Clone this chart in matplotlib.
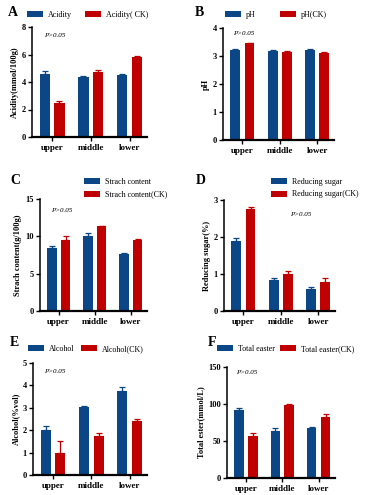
import matplotlib
matplotlib.use("Agg")
import matplotlib.pyplot as plt
import numpy as np
from matplotlib.patches import Patch

plt.rcParams['font.family'] = ['Liberation Serif', 'DejaVu Serif']

groups = ["upper", "middle", "lower"]

acid = [4.55, 4.40, 4.48]; acid_err = [0.25, 0.05, 0.12]
acid_ck = [2.45, 4.70, 5.85]; acid_ck_err = [0.20, 0.20, 0.05]

ph = [3.22, 3.18, 3.22]; ph_err = [0.03, 0.03, 0.03]
ph_ck = [3.45, 3.15, 3.12]; ph_ck_err = [0.03, 0.03, 0.03]

starch = [8.5, 10.1, 7.6]; starch_err = [0.15, 0.4, 0.2]
starch_ck = [9.5, 11.35, 9.5]; starch_ck_err = [0.5, 0.1, 0.2]

sugar = [1.90, 0.83, 0.59]; sugar_err = [0.08, 0.07, 0.05]
sugar_ck = [2.75, 1.00, 0.78]; sugar_ck_err = [0.07, 0.07, 0.10]

alcohol = [2.0, 3.02, 3.75]; alcohol_err = [0.2, 0.07, 0.2]
alcohol_ck = [1.0, 1.72, 2.40]; alcohol_ck_err = [0.5, 0.15, 0.1]

ester = [92, 64, 68]; ester_err = [3, 4, 1]
ester_ck = [57, 99, 82]; ester_ck_err = [4, 1, 5]

BLUE = "#0b4686"
RED = "#c00000"

W, H = 374, 495
fig = plt.figure(figsize=(W / 100, H / 100), dpi=100)


def add_ax(l, r, t, b):
    return fig.add_axes([l / W, 1 - b / H, (r - l) / W, (b - t) / H])


def panel(box, label, lab_xy, vals, errs, vals_ck, errs_ck, ylim, yticks, ylabel,
          names, leg_xy, leg_cols, ptxt_xy, colsp=1.2):
    ax = add_ax(*box)
    x = np.arange(len(groups))
    bw = 0.26
    off = 0.19
    ax.bar(x - off, vals, bw, color=BLUE, zorder=2)
    ax.bar(x + off, vals_ck, bw, color=RED, zorder=2)
    ax.errorbar(x - off, vals, yerr=[np.zeros(3), errs], fmt='none', ecolor=BLUE,
                elinewidth=0.9, capsize=2.5, capthick=0.9, zorder=3)
    ax.errorbar(x + off, vals_ck, yerr=[np.zeros(3), errs_ck], fmt='none', ecolor=RED,
                elinewidth=0.9, capsize=2.5, capthick=0.9, zorder=3)
    ax.set_xlim(-0.52, 2.45)
    ax.set_ylim(*ylim)
    ax.set_yticks(yticks)
    ax.set_xticks(x)
    ax.set_xticklabels(groups, fontsize=6.5, fontweight='bold')
    ax.tick_params(axis='y', labelsize=6, width=1.0, length=3, direction='out', pad=1.5)
    ax.tick_params(axis='x', width=1.0, length=3, direction='out', pad=2)
    for t in ax.get_yticklabels():
        t.set_fontweight('bold')
    ax.spines['top'].set_visible(False)
    ax.spines['right'].set_visible(False)
    ax.spines['left'].set_linewidth(1.1)
    ax.spines['bottom'].set_linewidth(1.6)
    ax.set_ylabel(ylabel, fontsize=6, fontweight='bold', labelpad=2)
    ax.text(ptxt_xy[0], ptxt_xy[1], "P>0.05", fontsize=5, fontstyle='italic',
            ha='left', va='center')
    fig.text(lab_xy[0] / W, 1 - lab_xy[1] / H, label, fontsize=10, fontweight='bold',
             ha='left', va='center')
    handles = [Patch(facecolor=BLUE), Patch(facecolor=RED)]
    fig.legend(handles, names, loc='center left',
               bbox_to_anchor=(leg_xy[0] / W, 1 - leg_xy[1] / H),
               ncol=leg_cols, frameon=False, fontsize=5.8, handlelength=2.0,
               handleheight=0.8, handletextpad=0.6, columnspacing=colsp,
               labelspacing=0.6, borderpad=0, borderaxespad=0)
    return ax


panel((32, 147, 27, 137), "A", (8, 12), acid, acid_err, acid_ck, acid_ck_err,
      (0, 8), [0, 2, 4, 6, 8], "Acidity(mmol/100g)",
      ["Acidity", "Acidity( CK)"], (27, 15), 2, (-0.2, 7.4), colsp=1.6)

panel((223, 334, 28, 140), "B", (195, 12), ph, ph_err, ph_ck, ph_ck_err,
      (0, 4), [0, 1, 2, 3, 4], "pH",
      ["pH", "pH(CK)"], (225, 15), 2, (-0.25, 3.82), colsp=3.0)

panel((40, 147, 199, 311), "C", (10, 180), starch, starch_err, starch_ck, starch_ck_err,
      (0, 15), [0, 5, 10, 15], "Strach content(g/100g)",
      ["Strach content", "Strach content(CK)"], (84, 188), 1, (-0.2, 13.4))

panel((224, 335, 200, 311), "D", (196, 180), sugar, sugar_err, sugar_ck, sugar_ck_err,
      (0, 3), [0, 1, 2, 3], "Reducing sugar(%)",
      ["Reducing sugar", "Reducing sugar(CK)"], (271, 188), 1, (1.25, 2.6))

panel((33, 147, 363, 475), "E", (10, 343), alcohol, alcohol_err, alcohol_ck, alcohol_ck_err,
      (0, 5), [0, 1, 2, 3, 4, 5], "Alcohol(%vol)",
      ["Alcohol", "Alcohol(CK)"], (28, 349), 2, (-0.23, 4.6), colsp=0.8)

panel((227, 335, 367, 478), "F", (208, 343), ester, ester_err, ester_ck, ester_ck_err,
      (0, 150), [0, 50, 100, 150], "Total ester(mmol/L)",
      ["Total easter", "Total easter(CK)"], (217, 349), 2, (-0.27, 142), colsp=0.6)

fig.savefig("out.png", dpi=100)
